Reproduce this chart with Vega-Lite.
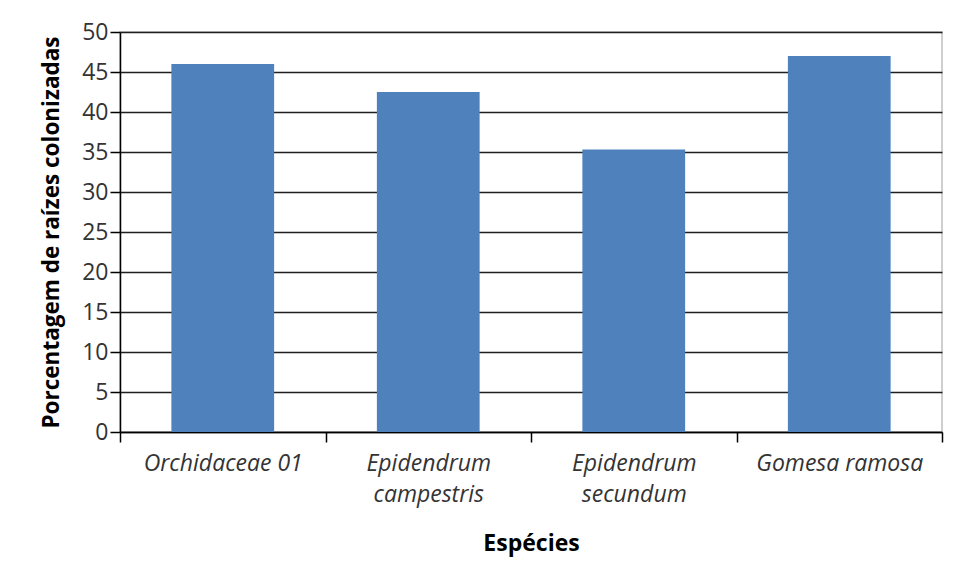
{
  "$schema": "https://vega.github.io/schema/vega-lite/v6.json",
  "width": 822,
  "height": 400,
  "autosize": {"type": "none"},
  "padding": {"left": 120, "top": 32, "right": 15, "bottom": 147},
  "background": "white",
  "data": {
    "values": [
      {"especie": "Orchidaceae 01", "pct": 46},
      {"especie": "Epidendrum campestris", "pct": 42.5},
      {"especie": "Epidendrum secundum", "pct": 35.3},
      {"especie": "Gomesa ramosa", "pct": 47}
    ]
  },
  "mark": {"type": "bar", "color": "#4F81BD", "width": {"band": 0.5}},
  "encoding": {
    "x": {
      "field": "especie",
      "type": "nominal",
      "sort": null,
      "scale": {"paddingInner": 0, "paddingOuter": 0},
      "axis": {
        "title": "Espécies",
        "labelAngle": 0,
        "labelExpr": "indexof(datum.label, 'Epidendrum') == 0 ? split(datum.label, ' ') : datum.label",
        "labelFont": "Open Sans",
        "labelFontStyle": "italic",
        "labelFontSize": 23,
        "labelColor": "#333333",
        "labelLineHeight": 31,
        "labelPadding": 10,
        "tickBand": "extent",
        "tickSize": 10,
        "tickColor": "#000000",
        "tickWidth": 1.5,
        "domainColor": "#000000",
        "domainWidth": 1.5,
        "grid": false,
        "titleFont": "Open Sans",
        "titleFontSize": 23,
        "titleFontWeight": "bold",
        "titleColor": "#000000",
        "titlePadding": 26
      }
    },
    "y": {
      "field": "pct",
      "type": "quantitative",
      "scale": {"domain": [0, 50]},
      "axis": {
        "title": "Porcentagem de raízes colonizadas",
        "values": [0, 5, 10, 15, 20, 25, 30, 35, 40, 45, 50],
        "labelFont": "Open Sans",
        "labelFontSize": 23,
        "labelColor": "#333333",
        "labelPadding": 2,
        "tickSize": 10,
        "tickColor": "#000000",
        "tickWidth": 1.5,
        "domainColor": "#000000",
        "domainWidth": 1.5,
        "grid": true,
        "gridColor": "#1f1f1f",
        "gridWidth": 1.5,
        "titleFont": "Open Sans",
        "titleFontSize": 22.5,
        "titleFontWeight": "bold",
        "titleColor": "#000000",
        "titlePadding": 18
      }
    }
  },
  "config": {"view": {"stroke": "#bfbfbf", "strokeWidth": 1.5}}
}
